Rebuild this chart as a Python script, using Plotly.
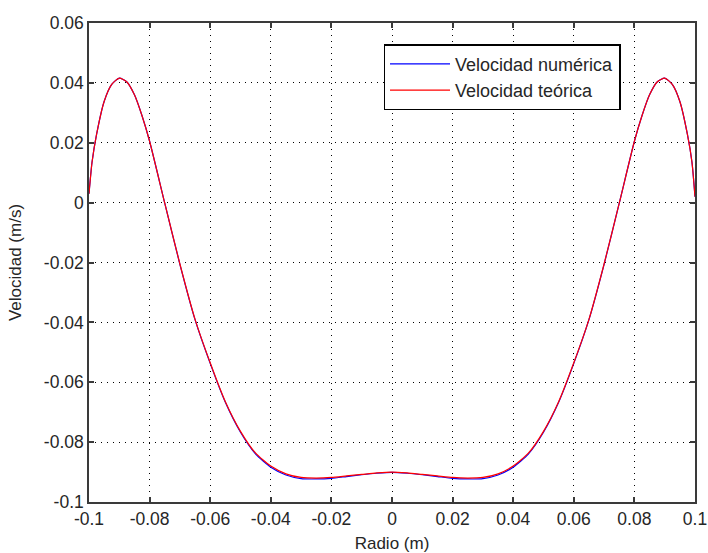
import plotly.graph_objects as go

# Radial positions (m) and velocity profiles (m/s)
radio = [-0.100, -0.099, -0.0975, -0.095, -0.0925, -0.090, -0.0875, -0.085, -0.0825,
         -0.080, -0.075, -0.070, -0.065, -0.060, -0.055, -0.050, -0.045, -0.040,
         -0.035, -0.030, -0.025, -0.020, -0.015, -0.010, -0.005, 0.000,
         0.005, 0.010, 0.015, 0.020, 0.025, 0.030, 0.035, 0.040, 0.045, 0.050,
         0.055, 0.060, 0.065, 0.070, 0.075, 0.080, 0.0825, 0.085, 0.0875,
         0.090, 0.0925, 0.095, 0.0975, 0.099, 0.100]

vel_teorica = [0.0030, 0.0135, 0.0228, 0.0338, 0.0395, 0.0416, 0.0403, 0.0360, 0.0290,
               0.0205, -0.0002, -0.0205, -0.0390, -0.0535, -0.0665, -0.0764, -0.0837, -0.0880,
               -0.0906, -0.0918, -0.0920, -0.0918, -0.0913, -0.0908, -0.0903, -0.0900,
               -0.0903, -0.0908, -0.0913, -0.0918, -0.0920, -0.0918, -0.0906, -0.0880, -0.0837, -0.0764,
               -0.0665, -0.0535, -0.0390, -0.0205, -0.0002, 0.0205, 0.0290, 0.0360, 0.0403,
               0.0416, 0.0395, 0.0338, 0.0228, 0.0135, 0.0020]

vel_numerica = [0.0030, 0.0135, 0.0228, 0.0338, 0.0395, 0.0416, 0.0403, 0.0360, 0.0290,
                0.0205, -0.0002, -0.0206, -0.0391, -0.0537, -0.0667, -0.0767, -0.0840, -0.0884,
                -0.0910, -0.0922, -0.0923, -0.0921, -0.0915, -0.0909, -0.0904, -0.0901,
                -0.0904, -0.0909, -0.0915, -0.0921, -0.0923, -0.0922, -0.0910, -0.0884, -0.0840, -0.0767,
                -0.0667, -0.0537, -0.0391, -0.0206, -0.0002, 0.0205, 0.0290, 0.0360, 0.0403,
                0.0416, 0.0395, 0.0338, 0.0228, 0.0135, 0.0020]

x_ticks = [-0.1, -0.08, -0.06, -0.04, -0.02, 0, 0.02, 0.04, 0.06, 0.08, 0.1]
x_labels = ["-0.1", "-0.08", "-0.06", "-0.04", "-0.02", "0", "0.02", "0.04", "0.06", "0.08", "0.1"]
y_ticks = [-0.1, -0.08, -0.06, -0.04, -0.02, 0, 0.02, 0.04, 0.06]
y_labels = ["-0.1", "-0.08", "-0.06", "-0.04", "-0.02", "0", "0.02", "0.04", "0.06"]

font_family = "Liberation Sans, Arial, sans-serif"
text_color = "#262626"

fig = go.Figure()
fig.add_trace(go.Scatter(x=radio, y=vel_numerica, mode="lines", name="Velocidad numérica",
                         line=dict(color="#0000FF", width=1.2, shape="spline", smoothing=0.6)))
fig.add_trace(go.Scatter(x=radio, y=vel_teorica, mode="lines", name="Velocidad teórica",
                         line=dict(color="#FF0000", width=1.2, shape="spline", smoothing=0.6)))

axis_common = dict(
    showline=True, linecolor="#3a3a3a", linewidth=1.5, mirror="ticks",
    ticks="inside", ticklen=5, tickcolor="#3a3a3a", tickwidth=1.5,
    showgrid=True, gridcolor="black", gridwidth=1, griddash="1px,5px",
    zeroline=False, automargin=False, ticklabeloverflow="allow",
    tickfont=dict(family=font_family, size=17.5, color=text_color),
)

fig.update_xaxes(range=[-0.1, 0.1], tickvals=x_ticks, ticktext=x_labels,
                 title=dict(text="Radio (m)", font=dict(family=font_family, size=17, color=text_color),
                            standoff=10), **axis_common)
fig.update_yaxes(range=[-0.1, 0.06], tickvals=y_ticks, ticktext=y_labels,
                 title=dict(text="Velocidad (m/s)", font=dict(family=font_family, size=17, color=text_color),
                            standoff=18), **axis_common)

fig.update_layout(
    width=708, height=553,
    margin=dict(l=89, r=13, t=23, b=51),
    paper_bgcolor="white", plot_bgcolor="white",
    showlegend=True,
    legend=dict(x=0.486, y=0.956, xanchor="left", yanchor="top",
                bgcolor="white", bordercolor="black", borderwidth=1.5,
                font=dict(family=font_family, size=18, color=text_color),
                itemwidth=60, tracegroupgap=0),
)

fig.write_html("out.html")
